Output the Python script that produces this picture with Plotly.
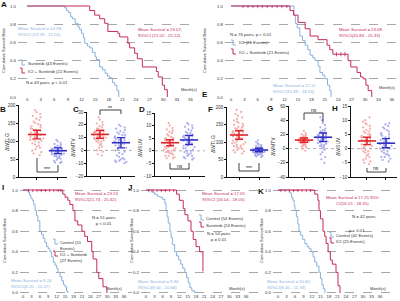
import plotly.graph_objects as go

W, H = 400, 301
def fx(px): return px / W
def fy(py): return 1 - py / H

FONT = 'Liberation Sans, Arial, sans-serif'
KM_RED = '#C62A5C'
KM_BLUE = '#86B2DE'
PT_RED = '#F29A9A'
PT_BLUE = '#9C9CEB'
MEAN_RED = '#E0242B'
MEAN_BLUE = '#2E2EC4'
TXT = '#333333'
KS = 4.3  # text size inside the survival panels

MONTH_TICKS = list(range(0, 37, 3))
SURV_TICKS = [0, 0.2, 0.4, 0.6, 0.8, 1.0]

# ---------------- Kaplan-Meier data (months, survival) ----------------
A_sun_t = [0, 8.3, 8.7, 9.1, 9.6, 10.0, 10.6, 11.2, 11.6, 12.0, 12.4, 12.7, 13.3, 13.8, 14.4, 15.0, 15.3, 16.0, 16.6, 17.2, 17.7, 18.2, 18.8, 19.3, 19.8, 20.2]
A_sun_s = [1.0, 0.98, 0.95, 0.93, 0.88, 0.86, 0.81, 0.77, 0.74, 0.70, 0.65, 0.59, 0.56, 0.54, 0.49, 0.44, 0.41, 0.33, 0.30, 0.26, 0.23, 0.21, 0.16, 0.13, 0.07, 0.0]
A_ici_t = [0, 13.8, 14.9, 16.0, 17.1, 17.8, 20.0, 20.4, 22.2, 22.6, 23.7, 24.3, 25.4, 28.5, 28.9, 29.8, 30.3, 30.9]
A_ici_s = [1.0, 0.95, 0.90, 0.86, 0.81, 0.72, 0.70, 0.66, 0.59, 0.54, 0.48, 0.42, 0.33, 0.28, 0.22, 0.13, 0.08, 0.0]

E_ici_t = [0, 14.1, 14.4, 14.8, 15.4, 16.0, 16.6, 17.2, 17.7, 18.3, 18.8, 19.5, 19.9, 20.5, 21.0, 21.6, 22.1, 22.4]
E_ici_s = [1.0, 0.90, 0.81, 0.76, 0.67, 0.62, 0.57, 0.52, 0.46, 0.43, 0.40, 0.34, 0.27, 0.24, 0.20, 0.13, 0.07, 0.0]
E_combo_t = [0, 13.2, 14.0, 15.0, 16.6, 17.7, 19.5, 21.5, 22.1, 22.8, 26.2, 26.8, 28.2, 29.0, 29.6, 30.2, 30.7, 31.5]
E_combo_s = [1.0, 0.95, 0.90, 0.82, 0.75, 0.67, 0.63, 0.57, 0.52, 0.47, 0.40, 0.33, 0.27, 0.22, 0.20, 0.13, 0.07, 0.0]
E_cens_t = [2.7, 3.8, 4.9, 6.0, 7.0, 8.1, 9.2, 10.3, 11.4, 12.5, 23.6, 24.6, 25.5]
E_cens_s = [1.0, 1.0, 1.0, 1.0, 1.0, 1.0, 1.0, 1.0, 1.0, 1.0, 0.47, 0.47, 0.47]

I_ctl_t = [0, 1.8, 2.3, 2.8, 3.3, 3.8, 4.3, 4.8, 5.3, 6.0, 6.6, 7.2, 7.8, 8.4, 9.0, 9.6, 10.2, 10.8, 11.4, 12.0, 12.5, 13.2, 13.8, 14.4, 15.0, 15.5, 16.0]
I_ctl_s = [1.0, 0.98, 0.95, 0.92, 0.90, 0.86, 0.80, 0.75, 0.70, 0.60, 0.57, 0.53, 0.49, 0.45, 0.43, 0.40, 0.35, 0.30, 0.27, 0.24, 0.20, 0.16, 0.12, 0.08, 0.06, 0.02, 0.0]
I_combo_t = [0, 14.2, 15.0, 16.0, 16.7, 17.8, 18.5, 19.5, 21.0, 22.0, 23.0, 24.5, 25.0, 26.3, 27.0, 28.5, 29.9]
I_combo_s = [1.0, 0.96, 0.93, 0.90, 0.86, 0.80, 0.70, 0.66, 0.60, 0.55, 0.50, 0.40, 0.33, 0.20, 0.14, 0.06, 0.0]
I_cens_t = [2.0, 3.5, 5.0, 6.5, 8.0, 9.5, 11.0, 12.5, 13.5]
I_cens_s = [1.0, 1.0, 1.0, 1.0, 1.0, 1.0, 1.0, 1.0, 1.0]

J_ctl_t = [0, 2.0, 3.0, 4.0, 5.0, 6.0, 6.8, 7.2, 7.6, 8.0, 8.6, 9.0, 9.5, 10.3, 11.0, 11.8, 12.5, 13.2, 14.0, 14.6, 15.2, 15.8, 16.5, 17.6]
J_ctl_s = [1.0, 0.98, 0.96, 0.94, 0.93, 0.91, 0.87, 0.80, 0.74, 0.68, 0.60, 0.54, 0.47, 0.40, 0.36, 0.32, 0.28, 0.24, 0.20, 0.15, 0.10, 0.05, 0.02, 0.0]
J_sun_t = [0, 11.0, 12.0, 13.4, 14.0, 15.1, 16.2, 17.0, 18.0, 19.3, 20.5]
J_sun_s = [1.0, 0.96, 0.90, 0.82, 0.76, 0.70, 0.60, 0.52, 0.45, 0.40, 0.21]
J_cens_t = [1.0, 2.5, 4.0, 5.5, 7.0, 8.5, 10.0]
J_cens_s = [1.0, 1.0, 1.0, 1.0, 1.0, 1.0, 1.0]

K_ctl_t = [0, 4.2, 4.8, 5.3, 5.7, 6.0, 6.5, 7.0, 7.4, 8.0, 8.7, 9.5, 10.3, 11.0, 11.7, 12.4, 13.0, 13.7, 14.5, 15.0, 15.5, 16.0, 16.6]
K_ctl_s = [1.0, 0.97, 0.93, 0.90, 0.85, 0.80, 0.74, 0.67, 0.60, 0.56, 0.52, 0.48, 0.45, 0.43, 0.40, 0.35, 0.30, 0.26, 0.20, 0.14, 0.08, 0.04, 0.0]
K_ici_t = [0, 13.0, 14.1, 14.5, 15.0, 15.9, 16.5, 17.0, 17.7, 18.5, 19.2, 20.5, 21.2, 21.9]
K_ici_s = [1.0, 0.96, 0.90, 0.80, 0.72, 0.60, 0.55, 0.48, 0.40, 0.32, 0.28, 0.20, 0.07, 0.0]
K_cens_t = [1.0, 2.5, 4.0, 5.5, 7.0, 8.5, 10.0, 11.5]
K_cens_s = [1.0, 1.0, 1.0, 1.0, 1.0, 1.0, 1.0, 1.0]

# ---------------- scatter (dot plot) data ----------------
B_red = [186, 180, 175, 170, 166, 162, 158, 154, 150, 147, 144, 141, 138, 135, 133, 131, 129, 127, 125, 123, 121, 119, 117, 115, 113, 111, 109, 107, 105, 103, 101, 99, 96, 93, 90, 87, 84, 81, 77, 73, 69, 65, 61]
B_blue = [103, 99, 95, 92, 89, 87, 85, 83, 82, 81, 80, 79, 78, 77, 76, 75, 74, 73, 73, 72, 71, 70, 70, 69, 68, 67, 66, 65, 64, 63, 62, 61, 60, 58, 57, 55, 53, 51, 48, 45, 42, 40, 39]
C_red = [26, 24, 22, 21, 20, 19, 18, 17, 17, 16, 16, 15, 15, 14, 14, 14, 13, 13, 13, 12, 12, 12, 11, 11, 11, 10, 10, 10, 9, 9, 8, 8, 7, 7, 6, 5, 4, 3, 2, 0, -1, -3, -4]
C_blue = [20, 19, 18, 17, 16, 15, 14, 14, 13, 12, 12, 11, 10, 10, 9, 9, 8, 8, 7, 7, 6, 6, 5, 5, 4, 4, 3, 2, 1, 0, -1, -2, -3, -4, -5, -6, -7, -7, -8, -8, -9, -9, -10]
D_red = [11, 10, 9, 8.5, 8, 7.5, 7, 6.5, 6, 5.5, 5, 5, 4.5, 4.5, 4, 4, 3.5, 3.5, 3, 3, 3, 2.5, 2.5, 2, 2, 1.5, 1.5, 1, 1, 0.5, 0.5, 0, 0, -0.5, -0.5, -1, -1, -1.5, -2, -2, -2.5, -3, -3]
D_blue = [11, 10.5, 10, 9.5, 9, 8.5, 8, 7.5, 7, 7, 6.5, 6, 6, 5.5, 5, 5, 4.5, 4.5, 4, 4, 3.5, 3.5, 3, 3, 2.5, 2, 2, 1.5, 1, 1, 0.5, 0, 0, -0.5, -1, -1, -1.5, -2, -2, -2.5, -3, -3, -3.5]
F_red = [192, 186, 180, 175, 170, 166, 162, 158, 155, 152, 149, 146, 143, 141, 139, 137, 135, 133, 131, 129, 127, 125, 123, 121, 120, 118, 116, 114, 112, 110, 108, 106, 104, 102, 100, 98, 96, 94, 92, 90, 88, 86, 84, 82, 80, 78, 76, 73, 70, 67]
F_blue = [105, 100, 96, 93, 91, 89, 87, 86, 85, 84, 83, 82, 81, 80, 80, 79, 79, 78, 78, 77, 77, 76, 76, 75, 75, 74, 74, 73, 73, 72, 72, 71, 70, 70, 69, 68, 67, 66, 65, 64, 63, 62, 60, 59, 57]
G_red = [25, 22, 20, 19, 18, 17, 16, 16, 15, 15, 14, 14, 14, 13, 13, 13, 12, 12, 12, 12, 11, 11, 11, 11, 10, 10, 10, 10, 9, 9, 9, 8, 8, 7, 7, 6, 5, 4, 3, 2, 0, -3]
G_blue = [44, 40, 36, 33, 30, 28, 26, 25, 24, 23, 22, 21, 20, 19, 18, 18, 17, 17, 16, 16, 15, 15, 14, 14, 13, 12, 12, 11, 10, 9, 8, 7, 6, 5, 4, 3, 2, 0, -2, -5, -8, -12, -15, -20]
H_red = [11, 10, 9.5, 9, 8.5, 8, 7.5, 7, 6.5, 6, 6, 5.5, 5, 5, 4.5, 4.5, 4, 4, 3.5, 3.5, 3, 3, 3, 2.5, 2.5, 2, 2, 1.5, 1.5, 1, 1, 0.5, 0, 0, -0.5, -1, -1, -1.5, -2, -2.5, -3, -3.5, -4, -4.5, -5, -5.5]
H_blue = [9, 8.5, 8, 7.5, 7, 6.5, 6, 5.5, 5, 5, 4.5, 4, 4, 3.5, 3, 3, 2.5, 2.5, 2, 2, 1.5, 1.5, 1, 1, 0.5, 0, 0, -0.5, -1, -1, -1.5, -2, -2, -2.5, -3, -3, -3.5, -4, -4.5]

# group means and error half-widths (red, blue)
B_mean, B_err = [118, 73], [12, 8]
C_mean, C_err = [12.5, 6], [3, 4]
D_mean, D_err = [3.2, 4.3], [1.2, 1.8]
F_mean, F_err = [120, 77], [12, 5]
G_mean, G_err = [12, 16], [3, 6]
H_mean, H_err = [2.7, 1.9], [1.3, 1.6]

fig = go.Figure()
layout = dict(template='none', width=W, height=H, margin=dict(l=0, r=0, t=0, b=0, pad=0),
              paper_bgcolor='white', plot_bgcolor='white', showlegend=False,
              font=dict(family=FONT, size=5, color=TXT))
annotations = []
shapes = []

def ann(text, px, py, size=KS, color=TXT, xa='center', ya='middle', angle=0, bold=False, align='left'):
    if bold:
        text = '<b>' + text + '</b>'
    annotations.append(dict(text=text, x=fx(px), y=fy(py), xref='paper', yref='paper',
                            showarrow=False, xanchor=xa, yanchor=ya, textangle=angle,
                            align=align, borderpad=0,
                            font=dict(family=FONT, size=size, color=color)))

def glyph(x, y, color):
    p = f"M {fx(x)},{fy(y)} L {fx(x+2)},{fy(y)} L {fx(x+2)},{fy(y+5)} L {fx(x+5)},{fy(y+5)}"
    shapes.append(dict(type='path', xref='paper', yref='paper', path=p, line=dict(color=color, width=1)))

def ax_name(kind, n):
    return kind + 'axis' + ('' if n == 1 else str(n))

def ref(kind, n):
    return kind + ('' if n == 1 else str(n))

# ---------------- KM panels ----------------
km_panels = [
    dict(n=1, xd=(18, 195), xr=(-2, 37), yd=(5.1, 97.9), xpos=95.5,
         curves=[(A_sun_t, A_sun_s, KM_BLUE), (A_ici_t, A_ici_s, KM_RED)], cens=None),
    dict(n=2, xd=(225, 399), xr=(-1.34, 37.6), yd=(5.1, 97.9), xpos=95.5,
         curves=[(E_ici_t, E_ici_s, KM_BLUE), (E_combo_t, E_combo_s, KM_RED)], cens=(E_cens_t, E_cens_s)),
    dict(n=3, xd=(20, 132), xr=(-1.07, 38.85), yd=(189.0, 294.0), xpos=292.5,
         curves=[(I_ctl_t, I_ctl_s, KM_BLUE), (I_combo_t, I_combo_s, KM_RED)], cens=(I_cens_t, I_cens_s)),
    dict(n=4, xd=(141, 261), xr=(-1.8, 41.4), yd=(189.0, 294.0), xpos=292.5,
         curves=[(J_ctl_t, J_ctl_s, KM_BLUE), (J_sun_t, J_sun_s, KM_RED)], cens=(J_cens_t, J_cens_s)),
    dict(n=5, xd=(273, 398), xr=(-1.76, 42.4), yd=(189.0, 294.0), xpos=292.5,
         curves=[(K_ctl_t, K_ctl_s, KM_BLUE), (K_ici_t, K_ici_s, KM_RED)], cens=(K_cens_t, K_cens_s)),
]

for p in km_panels:
    n = p['n']
    layout[ax_name('x', n)] = dict(domain=[fx(p['xd'][0]), fx(p['xd'][1])], range=list(p['xr']),
                                   anchor='free', position=fy(p['xpos']), tickvals=MONTH_TICKS, ticks='',
                                   showgrid=False, zeroline=False, showline=False, automargin=False,
                                   tickfont=dict(size=4.3, color=TXT))
    layout[ax_name('y', n)] = dict(domain=[fy(p['yd'][1]), fy(p['yd'][0])], range=[-0.01, 1.01],
                                   anchor=ref('x', n), tickvals=SURV_TICKS, tickformat='.1f', ticks='',
                                   showgrid=True, griddash='dash', gridcolor='#a8a8a8', gridwidth=0.6,
                                   zeroline=False, showline=False, automargin=False,
                                   tickfont=dict(size=4.3, color=TXT), ticklabelstandoff=1)
    for t, s, c in p['curves']:
        fig.add_trace(go.Scatter(x=t, y=s, mode='lines', line=dict(color=c, width=1, shape='hv'),
                                 xaxis=ref('x', n), yaxis=ref('y', n), hoverinfo='skip'))
    if p['cens']:
        fig.add_trace(go.Scatter(x=p['cens'][0], y=p['cens'][1], mode='markers',
                                 marker=dict(symbol='line-ns', size=3, line=dict(color=KM_RED, width=0.8)),
                                 xaxis=ref('x', n), yaxis=ref('y', n), hoverinfo='skip'))

# KM annotations
ann('A', 4, 5, size=8, bold=True, color='#111')
ann('Cumulative Survival Rate', 4, 50, size=4, angle=-90)
ann('Mean Survival = 14.39,<br>95%CI (13.29 - 15.50)', 17, 31, color=KM_BLUE, xa='left')
ann('Mean Survival = 23.07,<br>95%CI (21.02 - 25.12)', 137, 33, color=KM_RED, xa='left')
glyph(20, 60, KM_BLUE); ann('Sunitinib (43 Events)', 27, 63, xa='left')
glyph(20, 68, KM_RED); ann('ICI + Sunitinib (22 Events)', 27, 71, xa='left')
ann('N = 43 pairs, p < 0.01', 25, 82, xa='left')
ann('Month(s)', 189, 89, size=4)

ann('E', 205, 94, size=8, bold=True, color='#111')
ann('Cumulative Survival Rate', 205, 50, size=4, angle=-90)
ann('N = 76 pairs, p < 0.01', 229, 35, xa='left')
glyph(231, 40, KM_BLUE); ann('ICI (21 Events)', 238, 43, xa='left')
glyph(231, 49, KM_RED); ann('ICI + Sunitinib (21 Events)', 238, 52, xa='left')
ann('Mean Survival = 23.08<br>95%CI(20.84 - 25.33)', 338, 32, color=KM_RED, xa='left')
ann('Mean Survival = 17.11<br>95%CI(15.88 - 18.33)', 272, 88, color=KM_BLUE, xa='left')
ann('Month(s)', 387, 87, size=4)

ann('I', 3, 187, size=8, bold=True, color='#111')
ann('Cumulative Survival Rate', 4, 240, size=4, angle=-90)
ann('Mean Survival = 23.53<br>95%CI(21.74 - 25.32)', 74, 196, color=KM_RED, xa='left')
ann('N = 51 pairs<br>p < 0.01', 103, 220, align='center')
glyph(53, 239, KM_BLUE); ann('Control (51<br>Events)', 59, 245, xa='left')
glyph(53, 251, KM_RED); ann('ICI + Sunitinib<br>(27 Events)', 59, 257, xa='left')
ann('Mean Survival = 9.24<br>95%CI(8.20 - 10.27)', 10, 283, color=KM_BLUE, xa='left')
ann('Month(s)', 114, 288, size=4)

ann('J', 130, 187, size=8, bold=True, color='#111')
ann('Cumulative Survival Rate', 131, 240, size=4, angle=-90)
ann('Mean Survival = 17.05<br>95%CI (16.04 - 18.05)', 223, 196, color=KM_RED, align='center')
glyph(199, 215, KM_BLUE); ann('Control (54 Events)', 205, 218, xa='left')
glyph(199, 222, KM_RED); ann('Sunitinib (24 Events)', 205, 225, xa='left')
ann('N = 54 pairs<br>p = 0.01', 218, 236, align='center')
ann('Mean Survival = 9.94<br>95%CI(9.04 - 10.84)', 137, 284, color=KM_BLUE, xa='left')
ann('Month(s)', 237, 288, size=4)

ann('K', 261, 191, size=8, bold=True, color='#111')
ann('Cumulative Survival Rate', 261, 240, size=4, angle=-90)
ann('Mean Survival = 17.25 95%<br>CI(16.15 - 18.35)', 352, 200, color=KM_RED, align='center')
ann('N = 42 pairs', 363, 217)
ann('p < 0.01', 357, 230)
glyph(329, 232, KM_BLUE); ann('Control (42 Events)', 335, 235, xa='left')
glyph(329, 238, KM_RED); ann('ICI (25 Events)', 335, 241, xa='left')
ann('Mean Survival = 10.60<br>95%CI(9.45 - 11.74)', 266, 284, color=KM_BLUE, xa='left')
ann('Month(s)', 378, 288, size=4)

# ---------------- dot-plot panels ----------------
sc_panels = [
    dict(n=6, L='B', lab=(3, 110), ttl='ΔWTLG', tpos=(7, 142), xd=(19, 67), xr=(-0.857, 1.43), yd=(105, 177),
         yr=(0, 200), tv=[0, 50, 100, 150, 200], red=B_red, blue=B_blue, mean=B_mean, err=B_err, zero=False),
    dict(n=7, L='C', lab=(76, 109), ttl='ΔWMTV', tpos=(73, 148), xd=(87, 135), xr=(-0.62, 1.67), yd=(112, 176),
         yr=(-20, 30), tv=[-20, -10, 0, 10, 20, 30], red=C_red, blue=C_blue, mean=C_mean, err=C_err, zero=True),
    dict(n=8, L='D', lab=(142, 109), ttl='ΔWSUV', tpos=(140, 148), xd=(155, 205), xr=(-0.79, 1.84), yd=(113, 176),
         yr=(-10, 15), tv=[-10, -5, 0, 5, 10, 15], red=D_red, blue=D_blue, mean=D_mean, err=D_err, zero=True),
    dict(n=9, L='F', lab=(210, 109), ttl='ΔWTLG', tpos=(213, 144), xd=(227, 270), xr=(-0.6, 1.55), yd=(107, 177),
         yr=(0, 200), tv=[0, 50, 100, 150, 200], red=F_red, blue=F_blue, mean=F_mean, err=F_err, zero=False),
    dict(n=10, L='G', lab=(270, 108), ttl='ΔWMTV', tpos=(273, 147), xd=(289, 335), xr=(-0.79, 1.63), yd=(106, 177),
         yr=(-40, 60), tv=[-40, -20, 0, 20, 40, 60], red=G_red, blue=G_blue, mean=G_mean, err=G_err, zero=True),
    dict(n=11, L='H', lab=(335, 108), ttl='ΔWSUV', tpos=(338, 147), xd=(351, 397), xr=(-0.84, 1.58), yd=(106, 177),
         yr=(-10, 15), tv=[-10, -5, 0, 5, 10, 15], red=H_red, blue=H_blue, mean=H_mean, err=H_err, zero=True),
]

for p in sc_panels:
    n = p['n']
    layout[ax_name('x', n)] = dict(domain=[fx(p['xd'][0]), fx(p['xd'][1])], range=list(p['xr']),
                                   anchor=ref('y', n), type='linear', tickvals=[0, 1], ticks='outside',
                                   ticklen=2, tickwidth=0.7, tickcolor='#111', showticklabels=False,
                                   showgrid=False, zeroline=False, showline=True, linecolor='#111',
                                   linewidth=0.8, automargin=False)
    layout[ax_name('y', n)] = dict(domain=[fy(p['yd'][1]), fy(p['yd'][0])], range=list(p['yr']),
                                   anchor=ref('x', n), tickvals=p['tv'], ticks='outside', ticklen=2,
                                   tickwidth=0.7, tickcolor='#111', showgrid=False, zeroline=False,
                                   showline=True, linecolor='#111', linewidth=0.8, automargin=False,
                                   tickfont=dict(size=4.5, color=TXT), ticklabelstandoff=0)
    if p['zero']:
        shapes.append(dict(type='line', xref=ref('x', n) + ' domain', yref=ref('y', n), x0=0, x1=1, y0=0, y1=0,
                           line=dict(color='#9a9a9a', width=0.8, dash='dot'), layer='below'))
    for pos, vals, pc in [(0, p['red'], PT_RED), (1, p['blue'], PT_BLUE)]:
        fig.add_trace(go.Box(y=vals, x0=pos, boxpoints='all', jitter=0.9, pointpos=0, width=0.8,
                             line=dict(width=0, color='rgba(0,0,0,0)'), fillcolor='rgba(0,0,0,0)',
                             marker=dict(color=pc, size=2.2, opacity=0.85),
                             xaxis=ref('x', n), yaxis=ref('y', n), hoverinfo='skip'))
    for pos, mc in [(0, MEAN_RED), (1, MEAN_BLUE)]:
        fig.add_trace(go.Scatter(x=[pos], y=[p['mean'][pos]], mode='markers',
                                 marker=dict(symbol='line-ew', size=13, line=dict(color=mc, width=1.6)),
                                 error_y=dict(type='data', array=[p['err'][pos]], color=mc, thickness=1.4, width=4),
                                 xaxis=ref('x', n), yaxis=ref('y', n), hoverinfo='skip'))
    ann(p['L'], p['lab'][0], p['lab'][1], size=8, bold=True, color='#111')
    ann(p['ttl'], p['tpos'][0], p['tpos'][1], size=5, angle=-90)

# significance brackets (x at the two groups, vertical extents in px)
def bracket(n, y_red, y_line, y_blue, label, y_label):
    xr_ = ref('x', n)
    p = (f"M 0,{fy(y_red)} L 0,{fy(y_line)} L 1,{fy(y_line)} L 1,{fy(y_blue)}")
    shapes.append(dict(type='path', xref=xr_, yref='paper', path=p, line=dict(color='#111', width=0.8)))
    annotations.append(dict(text=label, x=0.5, y=fy(y_label), xref=xr_, yref='paper', showarrow=False,
                            xanchor='center', yanchor='middle', font=dict(family=FONT, size=5, color='#111')))

bracket(6, 158, 172, 165, '***', 169)
bracket(7, 115, 110, 114, '**', 107.5)
bracket(8, 163, 169, 163, 'ns', 165.5)
bracket(9, 163, 171, 163, '***', 168)
bracket(10, 120, 113, 122, 'ns', 109.5)
bracket(11, 168, 172, 168, 'ns', 168.5)

layout['annotations'] = annotations
layout['shapes'] = shapes
fig.update_layout(**layout)
# the page body normally has an 8px margin; remove it so the 400x301 figure fills the window
fig.write_html('out.html', config={'displayModeBar': False},
               post_script=["document.body.style.margin='0px';"])
